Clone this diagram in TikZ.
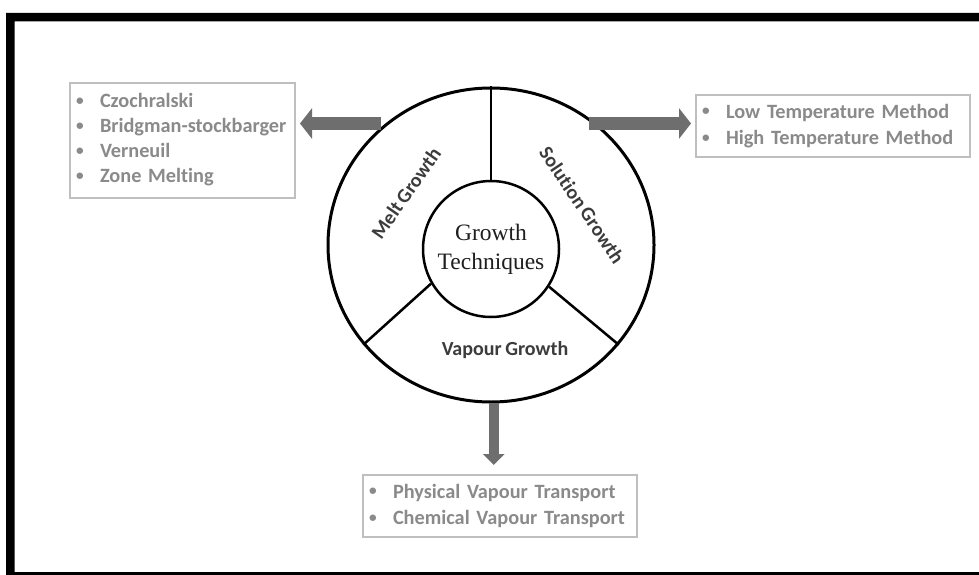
\documentclass[tikz,border=0pt]{standalone}
\usepackage{fontspec}
\setmainfont{Carlito}[Ligatures={NoCommon}, WordSpace=0.8]
\newfontfamily\serifcenter{Liberation Serif}
\usetikzlibrary{shapes.geometric,arrows.meta}
\definecolor{arrowgray}{HTML}{6E6E6E}
\definecolor{boxgray}{HTML}{BFBFBF}
\definecolor{listgray}{HTML}{8A8A8A}
\definecolor{labelgray}{HTML}{3C3C3C}
\newcommand{\smallbul}{\raisebox{0.12em}{\scalebox{0.75}{\textbullet}}}
\begin{document}
\begin{tikzpicture}[x=1pt,y=1pt,
  ring/.style={ellipse, draw=black, line width=3pt, inner sep=0pt, minimum width=326pt, minimum height=314pt},
  hub/.style={circle, draw=black, line width=2.5pt, inner sep=0pt, minimum size=136pt, align=center, font=\serifcenter\fontsize{23.5}{29}\selectfont, text=black!88},
  divider/.style={draw=black, line width=2.5pt},
  seglabel/.style={font=\bfseries\fontsize{20}{24}\selectfont, text=labelgray, inner sep=0pt},
  listbox/.style={draw=boxgray, line width=2pt, inner xsep=6pt, inner ysep=0pt, align=left, text=listgray},
  blockarrow/.style={draw=arrowgray, line width=13pt, -{Triangle[width=30pt,length=12pt]}},
]
\useasboundingbox (0,0) rectangle (979,574);
\fill[white] (0,0) rectangle (979,574);
% frame
\fill[black, even odd rule] (6,-5) rectangle (990,561) (14.5,2) rectangle (990,552.5);

% wheel
\node[ring] (ring) at (491,329) {};
\node[hub] (hub) at (491,325) {Growth\\Techniques};
\draw[divider] (hub.90) -- (ring.90);
\draw[divider] (hub.-150) -- (ring.-142);
\draw[divider] (hub.-33) -- (ring.-38);

\node[seglabel, rotate=55] (melt) at (406,381) {Melt Growth};
\node[seglabel, rotate=-56] (solution) at (582,369) {Solution Growth};
\node[seglabel] (vapour) at (505,224) {Vapour Growth};

% boxes
\node[listbox, text width=213pt, minimum height=115pt, font=\bfseries\fontsize{20.3}{25}\selectfont] (leftbox) at (182.5,433.5)
  {\begin{tabular}{@{}p{24pt}@{}l@{}}\smallbul & Czochralski\\ \smallbul & Bridgman-stockbarger\\ \smallbul & Verneuil\\ \smallbul & Zone Melting\end{tabular}};
\node[listbox, text width=262pt, minimum height=62pt, font=\bfseries\fontsize{20.3}{26.5}\selectfont] (rightbox) at (833,448)
  {\begin{tabular}{@{}p{24pt}@{}l@{}}\smallbul & Low Temperature Method\\ \smallbul & High Temperature Method\end{tabular}};
\node[listbox, text width=262pt, minimum height=62pt, font=\bfseries\fontsize{20.3}{26.5}\selectfont] (botbox) at (500,68)
  {\begin{tabular}{@{}p{24pt}@{}l@{}}\smallbul & Physical Vapour Transport\\ \smallbul & Chemical Vapour Transport\end{tabular}};

% arrows
\draw[blockarrow, shorten <=4pt, shorten >=4pt] (ring.131) -- (ring.131 -| leftbox.east);
\draw[blockarrow, shorten <=-8pt, shorten >=4pt] (ring.49) -- (ring.49 -| rightbox.west);
\draw[blockarrow, line width=10pt, -{Triangle[width=21pt,length=11pt]}, shorten >=9pt] (ring.-89) -- (ring.-89 |- botbox.north);
\end{tikzpicture}
\end{document}
